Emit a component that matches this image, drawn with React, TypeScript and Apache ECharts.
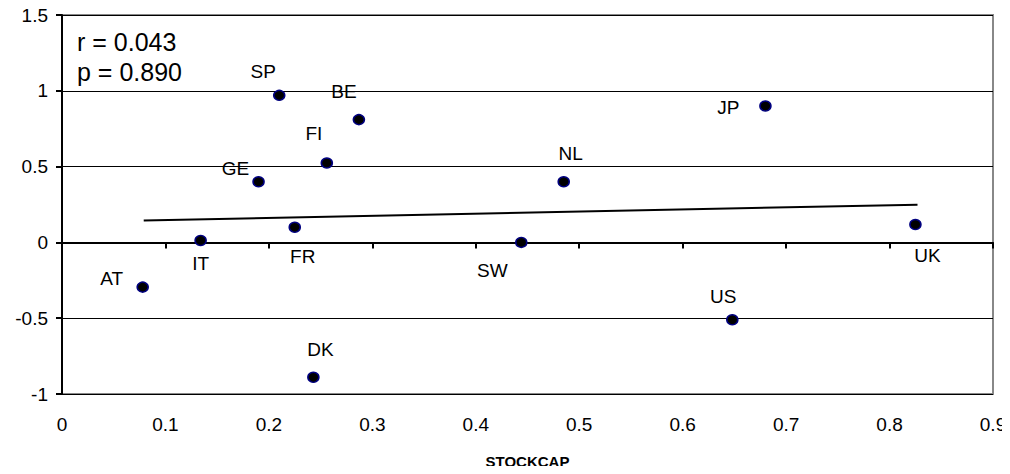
import React, { useEffect, useRef } from 'react';
import * as echarts from 'echarts';

const countries = ['AT', 'IT', 'GE', 'SP', 'FR', 'DK', 'FI', 'BE', 'SW', 'NL', 'US', 'JP', 'UK'];
const stockcap = [0.078, 0.134, 0.19, 0.21, 0.225, 0.243, 0.256, 0.287, 0.444, 0.485, 0.648, 0.68, 0.825];
const yValues = [-0.295, 0.013, 0.4, 0.97, 0.1, -0.89, 0.524, 0.81, 0.0, 0.4, -0.51, 0.9, 0.118];
const trendX = [0.079, 0.827];
const trendY = [0.144, 0.249];
const statsText = ['r = 0.043', 'p = 0.890'];

// label placement per country (pixels relative to the dot)
const labelOffsets: Record<string, [number, number]> = {
  AT: [-31, -9], IT: [0, 23], GE: [-23, -13], SP: [-16, -24], FR: [8, 29],
  DK: [7, -28], FI: [-13, -29], BE: [-15, -28], SW: [-29, 28], NL: [7, -28],
  US: [-9, -23], JP: [-37, 2], UK: [12, 31],
};

const font = 'Liberation Sans, Arial, sans-serif';

const App: React.FC = () => {
  const chartRef = useRef<HTMLDivElement | null>(null);

  useEffect(() => {
    if (!chartRef.current) return;
    const chart = echarts.init(chartRef.current, undefined, { renderer: 'svg' });

    const points = countries.map((c, i) => ({
      value: [stockcap[i], yValues[i]],
      name: c,
      label: { offset: labelOffsets[c] },
    }));

    chart.setOption({
      animation: false,
      textStyle: { fontFamily: font },
      grid: {
        left: 62, right: 17, top: 15, bottom: 77,
        show: true, borderColor: '#888', borderWidth: 2, backgroundColor: '#fff',
      },
      graphic: statsText.map((t, i) => ({
        type: 'text', left: 77, top: 29 + i * 30,
        style: { text: t, font: `25px ${font}`, fill: '#000' },
      })),
      xAxis: [
        {
          type: 'value', min: 0, max: 0.9, interval: 0.1,
          axisLine: { onZero: false, show: false },
          axisTick: { show: false },
          splitLine: { show: false },
          axisLabel: { color: '#000', fontSize: 19, margin: 21 },
          name: 'STOCKCAP', nameLocation: 'middle', nameGap: 60,
          nameTextStyle: { color: '#000', fontSize: 15, fontWeight: 'bold' },
        },
        {
          type: 'value', min: 0, max: 0.9, interval: 0.1, position: 'bottom',
          axisLine: { onZero: true, lineStyle: { color: '#000', width: 2 } },
          axisTick: { show: true, inside: false, length: 6, lineStyle: { color: '#000', width: 2 } },
          axisLabel: { show: false },
          splitLine: { show: false },
        },
      ],
      yAxis: {
        type: 'value', min: -1, max: 1.5, interval: 0.5,
        axisLine: { show: true, lineStyle: { color: '#000', width: 2 } },
        axisTick: { show: true, length: 6, lineStyle: { color: '#000', width: 2 } },
        axisLabel: { color: '#000', fontSize: 19, margin: 14 },
        splitLine: { show: true, lineStyle: { color: '#000', width: 1 } },
      },
      series: [
        {
          type: 'line',
          data: trendX.map((x, i) => [x, trendY[i]]),
          showSymbol: false,
          lineStyle: { color: '#000', width: 2 },
          silent: true,
        },
        {
          type: 'scatter',
          data: points,
          symbolSize: [11, 10],
          itemStyle: { color: '#000', borderColor: '#000080', borderWidth: 1.5, opacity: 1 },
          label: {
            show: true, position: 'inside', formatter: '{b}',
            color: '#000', fontSize: 19, fontFamily: font, textBorderWidth: 0,
          },
        },
      ],
    });

    return () => chart.dispose();
  }, []);

  return <div ref={chartRef} style={{ width: 1010, height: 474, margin: -8 }} />;
};

export default App;
